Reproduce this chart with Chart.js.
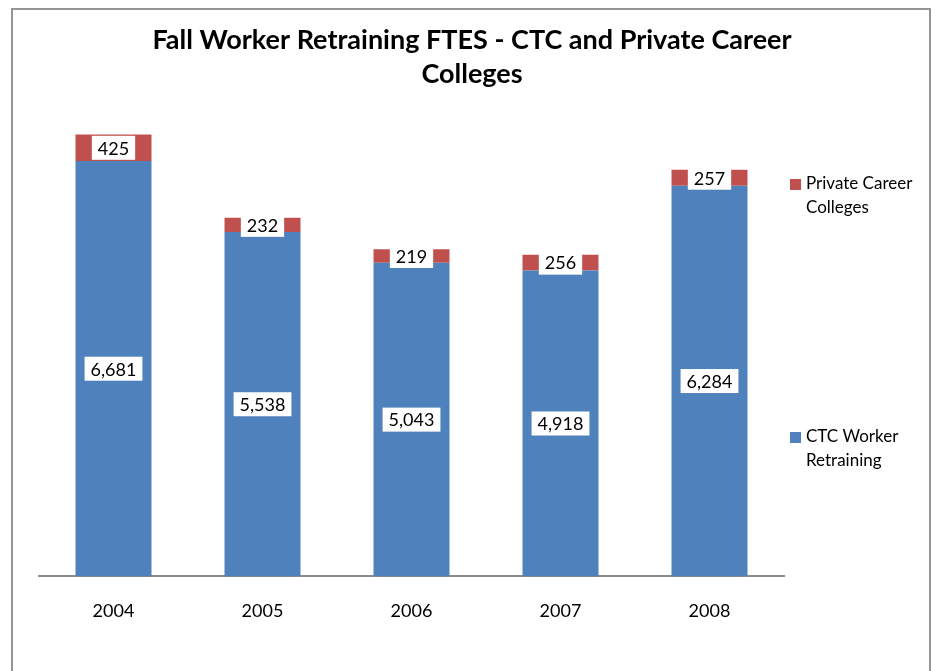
<!DOCTYPE html>
<html>
<head>
<meta charset="utf-8">
<script src="https://cdn.jsdelivr.net/npm/chart.js@4"></script>
<style>
  html, body { margin: 0; padding: 0; background: #fff; overflow: hidden; }
  #frame {
    position: absolute; left: 11px; top: 8px; width: 920px; height: 720px;
    border: 2px solid #959595; box-sizing: border-box;
  }
  #wrap { position: absolute; left: 0; top: 0; width: 943px; height: 671px; }
</style>
</head>
<body>
<div id="frame"></div>
<div id="wrap"><canvas id="chart" width="943" height="671"></canvas></div>
<script>
const years = ["2004", "2005", "2006", "2007", "2008"];
const ctcWorker = [6681, 5538, 5043, 4918, 6284];
const privateCareer = [425, 232, 219, 256, 257];

const FONT = "Lato, 'Open Sans', sans-serif";

// white boxed value labels in the middle of each segment
const boxLabels = {
  id: "boxLabels",
  afterDatasetsDraw(chart) {
    const ctx = chart.ctx;
    ctx.save();
    ctx.font = "18px " + FONT;
    ctx.textAlign = "center";
    ctx.textBaseline = "middle";
    chart.data.datasets.forEach((ds, i) => {
      chart.getDatasetMeta(i).data.forEach((bar, j) => {
        const text = ds.data[j].toLocaleString("en-US");
        const cy = (bar.y + bar.base) / 2;
        const w = ctx.measureText(text).width + 12;
        const h = 24;
        ctx.fillStyle = "#fff";
        ctx.fillRect(bar.x - w / 2, cy - h / 2, w, h);
        ctx.fillStyle = "#000";
        ctx.fillText(text, bar.x, cy + 1);
      });
    });
    ctx.restore();
  }
};

const titleAndLegend = {
  id: "titleAndLegend",
  afterDraw(chart) {
    const ctx = chart.ctx;
    ctx.save();
    ctx.fillStyle = "#000";
    ctx.textAlign = "center";
    ctx.textBaseline = "middle";
    ctx.font = "bold 27px " + FONT;
    ctx.fillText("Fall Worker Retraining FTES - CTC and Private Career", 472, 40);
    ctx.fillText("Colleges", 472, 74);

    const items = [
      { color: "#C0504D", lines: ["Private Career", "Colleges"], y: 184 },
      { color: "#4F81BD", lines: ["CTC Worker", "Retraining"], y: 437 }
    ];
    ctx.font = "17px " + FONT;
    ctx.textAlign = "left";
    items.forEach(it => {
      ctx.fillStyle = it.color;
      ctx.fillRect(790, it.y - 5, 11, 11);
      ctx.fillStyle = "#000";
      it.lines.forEach((l, k) => ctx.fillText(l, 806, it.y + k * 24));
    });
    ctx.restore();
  }
};

new Chart(document.getElementById("chart"), {
  type: "bar",
  data: {
    labels: years,
    datasets: [
      { label: "CTC Worker Retraining", data: ctcWorker, backgroundColor: "#4F81BD" },
      { label: "Private Career Colleges", data: privateCareer, backgroundColor: "#C0504D" }
    ]
  },
  options: {
    responsive: false,
    animation: false,
    categoryPercentage: 1,
    barPercentage: 0.51,
    layout: { padding: { left: 39, right: 159, top: 79, bottom: 25 } },
    plugins: { legend: { display: false }, title: { display: false }, tooltip: { enabled: false } },
    scales: {
      x: {
        stacked: true,
        grid: { display: false, drawTicks: false },
        border: { display: true, color: "#8c8c8c", width: 2 },
        ticks: { color: "#000", font: { family: FONT, size: 18 }, padding: 24 }
      },
      y: {
        stacked: true,
        display: false,
        min: 0,
        max: 8000
      }
    }
  },
  plugins: [boxLabels, titleAndLegend]
});
</script>
</body>
</html>
